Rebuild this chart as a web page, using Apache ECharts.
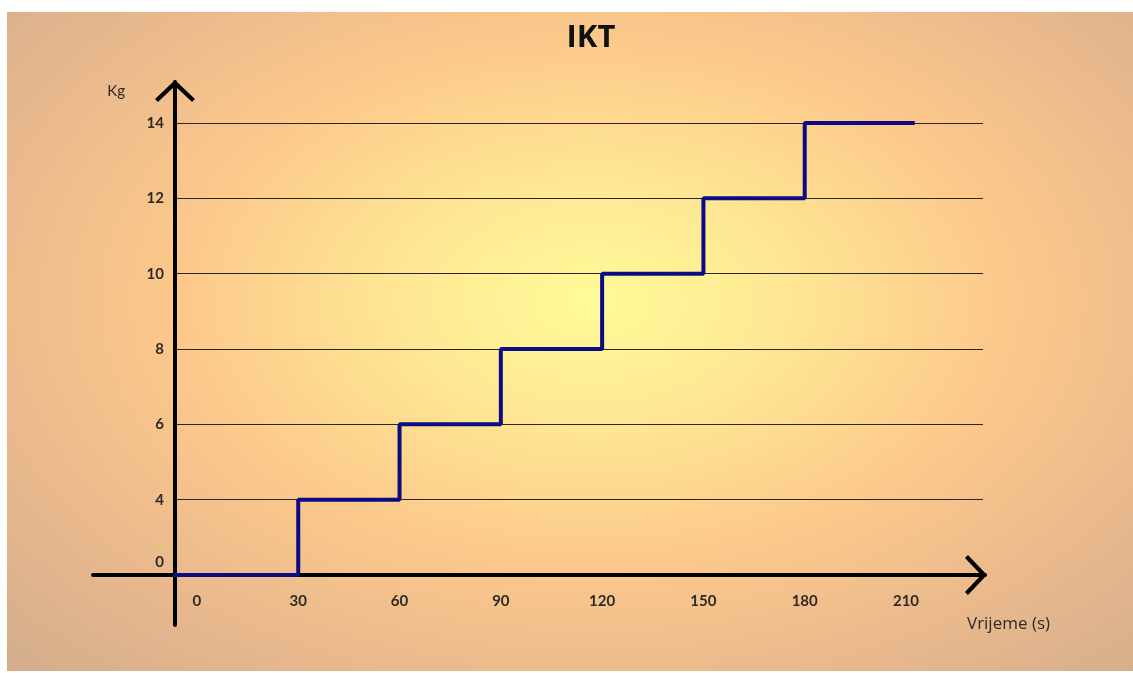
<!DOCTYPE html>
<html>
<head>
<meta charset="utf-8">
<script src="https://cdn.jsdelivr.net/npm/echarts@6/dist/echarts.min.js"></script>
<style>
  html, body { margin: 0; padding: 0; background: #fff; }
  #bg {
    position: absolute; left: 7px; top: 12px; width: 1126px; height: 659px;
    background: radial-gradient(ellipse farthest-corner at 52% 44%,
      #fffb98 0%, #fee693 24%, #fcc88b 50%, #e8b88d 76%, #d2ad8c 100%);
  }
  #chart { position: absolute; left: 0; top: 0; width: 1133px; height: 673px; }
</style>
</head>
<body>
<div id="bg"></div>
<div id="chart"></div>
<script>
// ============================================================================
// Data
// ============================================================================

const titleText = 'IKT'
const yName = 'Kg'
const xName = 'Vrijeme (s)'

// y levels, drawn evenly spaced as in the original
const weightLevels = ['0', '4', '6', '8', '10', '12', '14']
const timeTicks = [0, 30, 60, 90, 120, 150, 180, 210]

// step line: time (s) where each weight starts
const times = [-6.5, 30, 60, 90, 120, 150, 180, 212]
const weights = ['0', '4', '6', '8', '10', '12', '14', '14']

// ============================================================================
// Styles
// ============================================================================

const fontFamily = 'Lato, "Open Sans", sans-serif'
const labelColor = '#2e2a26'
const chevron = 'path://M22,0 L44,21 L40.9,24.3 L22,6.5 L3.1,24.3 L0,21 Z'

const decoAxisLine = {
    show: true,
    onZero: true,
    symbol: ['none', chevron],
    symbolSize: [40, 22],
    symbolOffset: [0, -9],
    lineStyle: {color: '#000', width: 4}
}

// ============================================================================
// Chart
// ============================================================================

function renderChart() {
    const chart = echarts.init(document.getElementById('chart'))
    const seriesData = times.map((t, i) => [t, weights[i]])

    const option = {
        animation: false,
        backgroundColor: 'transparent',
        title: {
            text: titleText,
            left: 586,
            textAlign: 'center',
            top: 18,
            textStyle: {
                fontFamily: '"Open Sans", sans-serif',
                fontWeight: 'bold',
                fontSize: 31,
                color: '#111'
            }
        },
        grid: [
            // main plot area
            {left: 175, right: 150, top: 123, bottom: 98},
            // decorative axis cross with arrows
            {left: 93, right: 148, top: 82, bottom: 48}
        ],
        xAxis: [
            {
                type: 'value',
                gridIndex: 0,
                min: -6.5,
                max: 232.8,
                name: xName,
                nameLocation: 'end',
                nameGap: -16,
                nameTextStyle: {
                    fontFamily: '"Open Sans", sans-serif',
                    fontSize: 17,
                    color: labelColor,
                    align: 'left',
                    verticalAlign: 'top',
                    padding: [41, 0, 0, 0]
                },
                axisLine: {show: false},
                axisTick: {show: false},
                splitLine: {show: false},
                axisLabel: {
                    customValues: timeTicks,
                    margin: 19,
                    fontFamily: fontFamily,
                    fontSize: 15,
                    fontWeight: 'bold',
                    color: labelColor
                }
            },
            {
                type: 'value',
                gridIndex: 1,
                min: -82,
                max: 810,
                axisLine: decoAxisLine,
                axisTick: {show: false},
                axisLabel: {show: false},
                splitLine: {show: false}
            }
        ],
        yAxis: [
            {
                type: 'category',
                gridIndex: 0,
                data: weightLevels,
                boundaryGap: false,
                name: yName,
                nameLocation: 'end',
                nameGap: 24,
                nameTextStyle: {
                    fontFamily: fontFamily,
                    fontSize: 15,
                    color: labelColor,
                    align: 'right',
                    padding: [0, 72, 0, 0]
                },
                axisLine: {show: false},
                axisTick: {show: false},
                axisLabel: {
                    margin: 11,
                    fontFamily: fontFamily,
                    fontSize: 15,
                    fontWeight: 'bold',
                    color: labelColor,
                    // the bottom label sits just above the time axis
                    formatter: v => v === '0' ? '{low|0}' : v,
                    rich: {
                        low: {
                            fontFamily: fontFamily,
                            fontSize: 15,
                            fontWeight: 'bold',
                            color: labelColor,
                            padding: [0, 0, 26, 0]
                        }
                    }
                },
                splitLine: {
                    show: true,
                    lineStyle: {color: '#2a2622', width: 1.2}
                }
            },
            {
                type: 'value',
                gridIndex: 1,
                min: -50,
                max: 493,
                axisLine: decoAxisLine,
                axisTick: {show: false},
                axisLabel: {show: false},
                splitLine: {show: false}
            }
        ],
        series: [
            {
                type: 'line',
                xAxisIndex: 0,
                yAxisIndex: 0,
                step: 'start',
                showSymbol: false,
                z: 5,
                lineStyle: {color: '#0b0b84', width: 4, cap: 'square'},
                data: seriesData
            }
        ]
    }
    chart.setOption(option)
}

renderChart()
</script>
</body>
</html>
